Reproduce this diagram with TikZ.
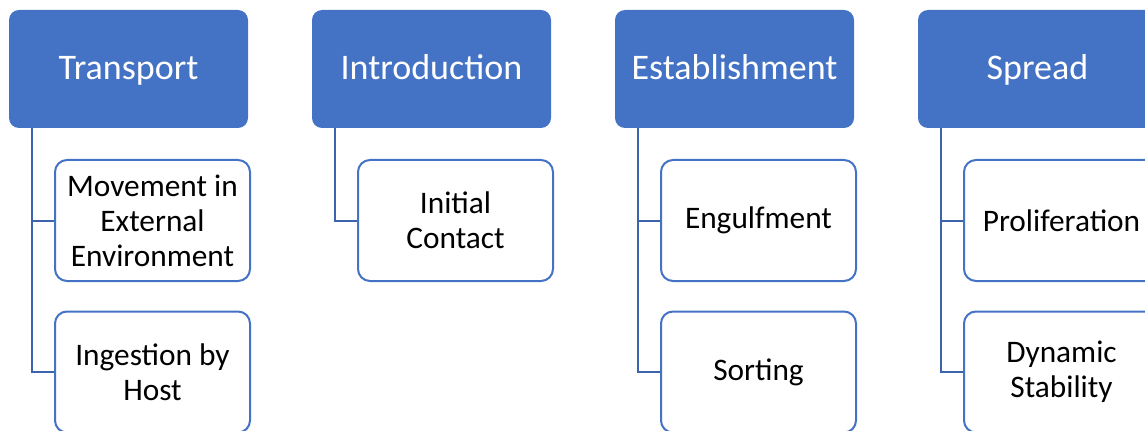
\documentclass[tikz,border=0pt]{standalone}
\usepackage{fontspec}
\setmainfont{Carlito}
\usetikzlibrary{positioning,calc}
\definecolor{hdblue}{HTML}{4472C4}
\definecolor{lnblue}{HTML}{3B64AD}
\newcommand{\barshift}{23}
\newcommand{\rowone}{220.5}
\newcommand{\rowtwo}{372}

\begin{document}
\begin{tikzpicture}[x=0.75pt, y=-0.75pt,
    head/.style={fill=hdblue, rounded corners=7.5pt, minimum width=179.25pt,
                 minimum height=88.5pt, text=white, inner sep=0pt,
                 text height=22.7pt, text depth=6.2pt,
                 font=\fontsize{27}{32}\selectfont},
    stage/.style={draw=hdblue, line width=1.5pt, fill=white, rounded corners=9pt,
                  minimum width=146.25pt, minimum height=90.75pt, align=center,
                  inner sep=0pt, font=\fontsize{23.5}{26.3}\selectfont},
    link/.style={draw=lnblue, line width=1.5pt}]
  \useasboundingbox (0,0) rectangle (1145,431);
  \clip (0,0) rectangle (1145,431);

  % stage headers
  \node [head] (trans) at (128.5, 69) {Transport};
  \node [head] (intro) at (431.5, 69) {Introduction};
  \node [head] (estab) at (734.5, 69) {Establishment};
  \node [head] (spread) at (1037.5, 69) {Spread};

  % sub-steps
  \node [stage] (move) at (152.5, \rowone) {Movement in\\External\\Environment};
  \node [stage] (ingest) at (152.5, \rowtwo) {Ingestion by\\Host};
  \node [stage] (contact) at (455.5, \rowone) {Initial\\Contact};
  \node [stage] (engulf) at (758.5, \rowone) {Engulfment};
  \node [stage] (sort) at (758.5, \rowtwo) {Sorting};
  \node [stage] (prolif) at (1061.5, \rowone) {Proliferation};
  \node [stage] (dynstab) at (1061.5, \rowtwo) {Dynamic\\Stability};

  % brackets
  \draw [link] ($(trans.south west)+(\barshift,0)$) |- (move.west);
  \draw [link] ($(trans.south west)+(\barshift,0)$) |- (ingest.west);
  \draw [link] ($(intro.south west)+(\barshift,0)$) |- (contact.west);
  \draw [link] ($(estab.south west)+(\barshift,0)$) |- (engulf.west);
  \draw [link] ($(estab.south west)+(\barshift,0)$) |- (sort.west);
  \draw [link] ($(spread.south west)+(\barshift,0)$) |- (prolif.west);
  \draw [link] ($(spread.south west)+(\barshift,0)$) |- (dynstab.west);
\end{tikzpicture}
\end{document}
